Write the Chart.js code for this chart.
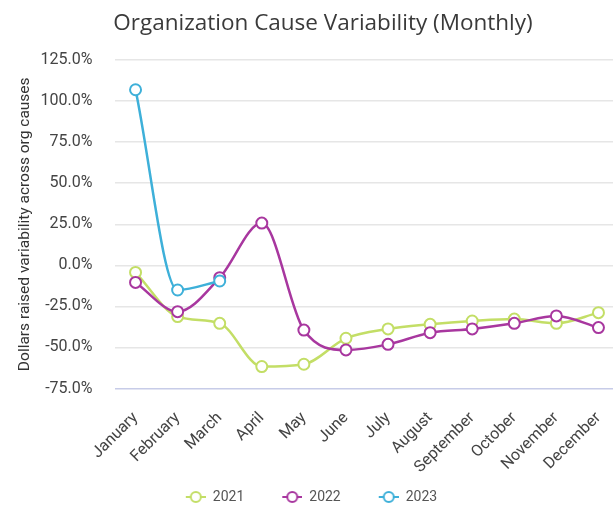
<!DOCTYPE html>
<html>
<head>
<meta charset="utf-8">
<script src="https://cdn.jsdelivr.net/npm/chart.js@4"></script>
<style>
  html, body { margin: 0; padding: 0; background: #ffffff; }
  #wrap { width: 613px; height: 508px; overflow: hidden; position: relative; }
  #box { width: 627px; height: 508px; }
</style>
</head>
<body>
<div id="wrap"><div id="box"><canvas id="c"></canvas></div></div>
<script>
const months = ["January","February","March","April","May","June","July","August","September","October","November","December"];
const v2021 = [-4.3, -31.2, -35.3, -61.6, -60.2, -44.4, -38.7, -35.9, -33.9, -32.7, -35.3, -28.8];
const v2022 = [-10.4, -28.2, -7.5, 25.7, -39.4, -51.5, -48.1, -41.0, -38.7, -35.3, -30.8, -37.9];
const v2023 = [106.9, -15.0, -9.5];
const seriesNames = ["2021", "2022", "2023"];
const yTicks = [-75, -50, -25, 0, 25, 50, 75, 100, 125];

const colors = ["#c3de66", "#a8379f", "#3eb0d9"];

// legend icon: blank lead-in then "-o-" marker
function legendIcon(color) {
  const c = document.createElement('canvas');
  c.width = 52; c.height = 14;
  const g = c.getContext('2d');
  const x0 = 32;
  g.strokeStyle = color; g.lineWidth = 2;
  g.beginPath(); g.moveTo(x0, 7); g.lineTo(x0 + 20, 7); g.stroke();
  g.beginPath(); g.arc(x0 + 10, 7, 5, 0, Math.PI * 2);
  g.fillStyle = '#fff'; g.fill(); g.stroke();
  return c;
}

function ds(label, data, color, order) {
  return {
    label, data, order,
    borderColor: color,
    backgroundColor: '#ffffff',
    pointBackgroundColor: '#ffffff',
    pointBorderColor: color,
    pointBorderWidth: 2,
    pointRadius: 5.5,
    borderWidth: 2.5,
    cubicInterpolationMode: 'monotone',
    fill: false
  };
}

const shiftPlugin = {
  id: 'shiftBoxes',
  afterLayout(chart) {
    const t = chart.titleBlock;
    if (t) { t.left += 1.5; t.right += 1.5; }
    const l = chart.legend;
    if (l) { l.left -= 26; l.right -= 26; }
  }
};

new Chart(document.getElementById('c'), {
  type: 'line',
  data: {
    labels: months,
    datasets: [
      ds(seriesNames[0], v2021, colors[0], 3),
      ds(seriesNames[1], v2022, colors[1], 2),
      ds(seriesNames[2], v2023, colors[2], 1)
    ]
  },
  plugins: [shiftPlugin],
  options: {
    responsive: true,
    maintainAspectRatio: false,
    animation: false,
    layout: { padding: { left: 16, right: 0, top: 4, bottom: -6 } },
    plugins: {
      title: {
        display: true,
        text: 'Organization Cause Variability (Monthly)',
        color: '#3a3a3a',
        font: { family: 'Open Sans', size: 22.5, weight: 'normal' },
        padding: { top: 6, bottom: 23 }
      },
      legend: {
        position: 'bottom',
        labels: {
          usePointStyle: true,
          pointStyleWidth: 52,
          color: '#555555',
          font: { family: 'Roboto', size: 14 },
          padding: 6,
          generateLabels(chart) {
            return chart.data.datasets.map((d, i) => ({
              text: d.label,
              pointStyle: legendIcon(colors[i]),
              fillStyle: '#fff',
              strokeStyle: colors[i],
              lineWidth: 0,
              hidden: false,
              datasetIndex: i,
              fontColor: '#555555'
            }));
          }
        }
      },
      tooltip: { enabled: false }
    },
    scales: {
      x: {
        offset: true,
        grid: { display: false },
        border: { display: false },
        afterFit(scale) { scale.paddingRight = 0; scale.paddingLeft = 0; scale.height -= 5; },
        ticks: {
          autoSkip: false,
          maxRotation: 45,
          minRotation: 45,
          color: '#444444',
          font: { family: 'Roboto', size: 16 },
          padding: 12
        }
      },
      y: {
        min: -75,
        max: 125,
        afterBuildTicks(axis) { axis.ticks = yTicks.map(v => ({ value: v })); },
        afterFit(scale) { scale.width -= 22; },
        grid: {
          drawTicks: false,
          color: (ctx) => (ctx.tick && ctx.tick.value === -75) ? '#c7cce8' : '#e6e6e6',
          lineWidth: 1.5
        },
        border: { display: false },
        ticks: {
          color: '#444444',
          font: { family: 'Roboto', size: 16 },
          padding: 22,
          callback: (v) => v.toFixed(1) + '%'
        },
        title: {
          display: true,
          text: 'Dollars raised variability across org causes',
          color: '#333333',
          font: { family: 'Roboto', size: 15.5 },
          padding: { top: 0, bottom: 6 }
        }
      }
    }
  }
});
</script>
</body>
</html>
